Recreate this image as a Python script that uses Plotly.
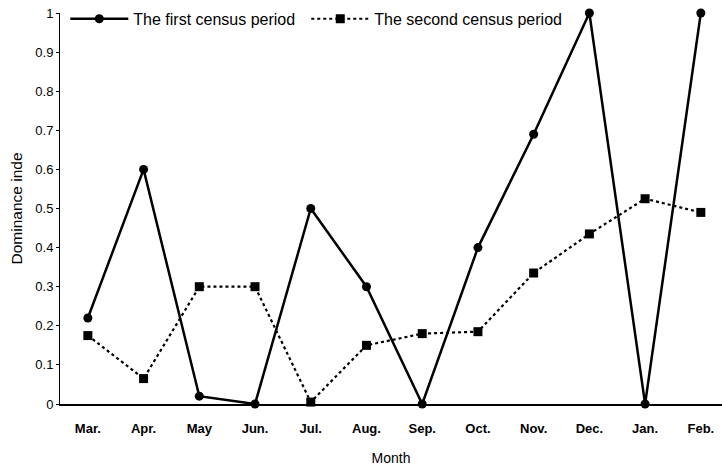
import plotly.graph_objects as go

months = ["Mar.", "Apr.", "May", "Jun.", "Jul.", "Aug.", "Sep.", "Oct.", "Nov.", "Dec.", "Jan.", "Feb."]
first_period = [0.22, 0.60, 0.02, 0.0, 0.50, 0.30, 0.0, 0.40, 0.69, 1.0, 0.0, 1.0]
second_period = [0.175, 0.065, 0.30, 0.30, 0.005, 0.15, 0.18, 0.185, 0.335, 0.435, 0.525, 0.49]
y_ticks = [0, 0.1, 0.2, 0.3, 0.4, 0.5, 0.6, 0.7, 0.8, 0.9, 1]
y_tick_labels = ["0", "0.1", "0.2", "0.3", "0.4", "0.5", "0.6", "0.7", "0.8", "0.9", "1"]

fig = go.Figure()
fig.add_trace(go.Scatter(
    x=list(range(len(months))), y=first_period, name="The first census period",
    mode="lines+markers", cliponaxis=False, legend="legend",
    line=dict(color="black", width=2.5),
    marker=dict(symbol="circle", size=9, color="black"),
))
fig.add_trace(go.Scatter(
    x=list(range(len(months))), y=second_period, name="The second census period",
    mode="lines+markers", cliponaxis=False, legend="legend2",
    line=dict(color="black", width=2.2, dash="dot"),
    marker=dict(symbol="square", size=9, color="black"),
))

legend_common = dict(orientation="h", xanchor="left", y=0.985, yanchor="middle",
                     bgcolor="rgba(0,0,0,0)", font=dict(size=16), itemwidth=58)

fig.update_layout(
    width=722, height=474,
    margin=dict(l=60, r=0, t=13, b=70, autoexpand=False),
    paper_bgcolor="white", plot_bgcolor="white",
    font=dict(family="Liberation Sans, Arial, sans-serif", size=12, color="black"),
    showlegend=True,
    legend=dict(x=0.008, **legend_common),
    legend2=dict(x=0.372, **legend_common),
)
fig.update_xaxes(
    range=[-0.5, 11.38], tickmode="array", tickvals=list(range(len(months))), ticktext=months,
    showgrid=False, zeroline=False, showline=True, linecolor="black", linewidth=1.5,
    ticks="", ticklabelstandoff=12, tickfont=dict(size=13, weight="bold"), automargin=False,
    title=dict(text="Month", font=dict(size=14), standoff=18),
)
fig.update_yaxes(
    range=[0, 1], tickmode="array", tickvals=y_ticks, ticktext=y_tick_labels,
    showgrid=False, zeroline=False, showline=True, linecolor="black", linewidth=1,
    ticks="outside", ticklen=3, tickcolor="black", tickfont=dict(size=13), automargin=False,
    title=dict(text="Dominance inde", font=dict(size=15.5), standoff=8),
)

fig.write_html("out.html", config={"displayModeBar": False},
               post_script="document.body.style.margin='0';document.body.style.padding='0';")
